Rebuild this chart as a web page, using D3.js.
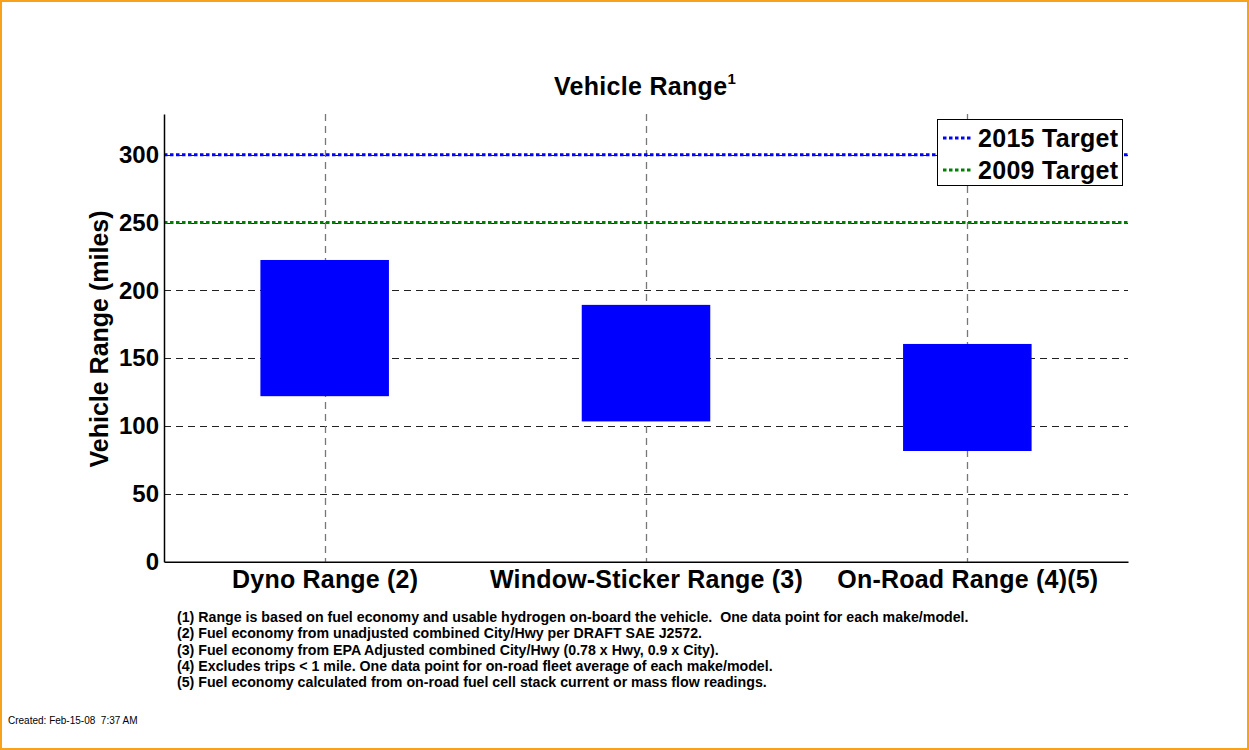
<!DOCTYPE html>
<html>
<head>
<meta charset="utf-8">
<script src="https://cdn.jsdelivr.net/npm/d3@7"></script>
<style>
  body { margin: 0; background: #fff; }
  svg { display: block; font-family: "Liberation Sans", Arial, sans-serif; }
</style>
</head>
<body>
<div id="chart"></div>
<script>
"use strict";
// data
const categories = ["Dyno Range (2)", "Window-Sticker Range (3)", "On-Road Range (4)(5)"];
const rangeLow = [122, 103.4, 81.6];
const rangeHigh = [222.4, 189.3, 160.5];
const targetLabels = ["2015 Target", "2009 Target"];
const targetValues = [300, 250];
const targetColors = ["#0000ff", "#008000"];
const yTicks = [0, 50, 100, 150, 200, 250, 300];
const footnotes = [
  "(1) Range is based on fuel economy and usable hydrogen on-board the vehicle.  One data point for each make/model.",
  "(2) Fuel economy from unadjusted combined City/Hwy per DRAFT SAE J2572.",
  "(3) Fuel economy from EPA Adjusted combined City/Hwy (0.78 x Hwy, 0.9 x City).",
  "(4) Excludes trips < 1 mile. One data point for on-road fleet average of each make/model.",
  "(5) Fuel economy calculated from on-road fuel cell stack current or mass flow readings."
];
const createdText = "Created: Feb-15-08  7:37 AM";

const W = 1249, H = 750;
const pL = 164, pR = 1128, pT = 114, pB = 561.7;

const svg = d3.select("#chart").append("svg").attr("width", W).attr("height", H);

// cadre orange
svg.append("rect").attr("x", 1).attr("y", 1).attr("width", W - 2).attr("height", H - 2)
  .attr("fill", "#fff").attr("stroke", "#f8a21c").attr("stroke-width", 2);

const x = d3.scaleLinear().domain([0.5, 3.5]).range([pL, pR]);
const y = d3.scaleLinear().domain([0, 330]).range([pB, pT]);

// grille horizontale
svg.append("g").selectAll("line").data(yTicks.filter(d => d > 0)).enter().append("line")
  .attr("x1", pL).attr("x2", pR)
  .attr("y1", d => Math.round(y(d)) + 0.5).attr("y2", d => Math.round(y(d)) + 0.5)
  .attr("stroke", "#222").attr("stroke-dasharray", "7,5");

// grille verticale
svg.append("g").selectAll("line").data(categories).enter().append("line")
  .attr("x1", (d, i) => Math.round(x(i + 1)) + 0.5).attr("x2", (d, i) => Math.round(x(i + 1)) + 0.5)
  .attr("y1", pT).attr("y2", pB)
  .attr("stroke", "#777").attr("stroke-width", 1.3).attr("stroke-dasharray", "7,5");

// barres (plage min-max)
const bw = 0.4;
svg.append("g").selectAll("rect").data(categories).enter().append("rect")
  .attr("x", (d, i) => x(i + 1 - bw / 2))
  .attr("width", (d, i) => x(i + 1 + bw / 2) - x(i + 1 - bw / 2))
  .attr("y", (d, i) => y(rangeHigh[i]))
  .attr("height", (d, i) => y(rangeLow[i]) - y(rangeHigh[i]))
  .attr("fill", "#0000ff");

// cibles
svg.append("g").selectAll("line").data(targetValues).enter().append("line")
  .attr("x1", pL).attr("x2", pR + 2)
  .attr("y1", d => y(d)).attr("y2", d => y(d))
  .attr("stroke", (d, i) => targetColors[i]).attr("stroke-width", 3)
  .attr("stroke-dasharray", "3.5,2.5");

// axes
const yAxis = svg.append("g").attr("transform", `translate(${pL},0)`)
  .call(d3.axisLeft(y).tickValues(yTicks).tickSize(0).tickPadding(5));
const xAxis = svg.append("g").attr("transform", `translate(0,${pB})`)
  .call(d3.axisBottom(x).tickValues([1, 2, 3]).tickFormat((d, i) => categories[i]).tickSize(0).tickPadding(9));
[yAxis, xAxis].forEach(a => {
  a.select(".domain").attr("stroke", "#000").attr("stroke-width", 1.5);
  a.selectAll("text").attr("fill", "#000").attr("font-family", "Liberation Sans, Arial, sans-serif")
    .attr("font-weight", "bold");
});
yAxis.selectAll("text").attr("font-size", 24);
xAxis.selectAll("text").attr("font-size", 25).attr("letter-spacing", 0.2);

// titres
const title = svg.append("text").attr("x", 645).attr("y", 95).attr("text-anchor", "middle")
  .attr("font-size", 25).attr("font-weight", "bold").attr("letter-spacing", 0.3);
title.append("tspan").text("Vehicle Range");
title.append("tspan").attr("font-size", 15).attr("dy", -11).text("1");

svg.append("text").attr("transform", `translate(108,339) rotate(-90)`)
  .attr("text-anchor", "middle").attr("font-size", 25).attr("font-weight", "bold")
  .text("Vehicle Range (miles)");

// légende
const leg = svg.append("g");
leg.append("rect").attr("x", 937.5).attr("y", 119.5).attr("width", 185).attr("height", 66)
  .attr("fill", "#fff").attr("stroke", "#000");
targetLabels.forEach((t, i) => {
  const cy = 138 + i * 32;
  leg.append("line").attr("x1", 943).attr("x2", 971).attr("y1", cy).attr("y2", cy)
    .attr("stroke", targetColors[i]).attr("stroke-width", 3).attr("stroke-dasharray", "3.5,2.5");
  leg.append("text").attr("x", 978).attr("y", cy + 9).attr("font-size", 25)
    .attr("font-weight", "bold").attr("letter-spacing", 0.3).text(t);
});

// notes
svg.append("g").selectAll("text").data(footnotes).enter().append("text")
  .attr("x", 177).attr("y", (d, i) => 622 + i * 16.3)
  .attr("font-size", 14.2).attr("font-weight", "bold")
  .style("white-space", "pre").text(d => d);

svg.append("text").attr("x", 8).attr("y", 724).attr("font-size", 10)
  .style("white-space", "pre").text(createdText);
</script>
</body>
</html>
